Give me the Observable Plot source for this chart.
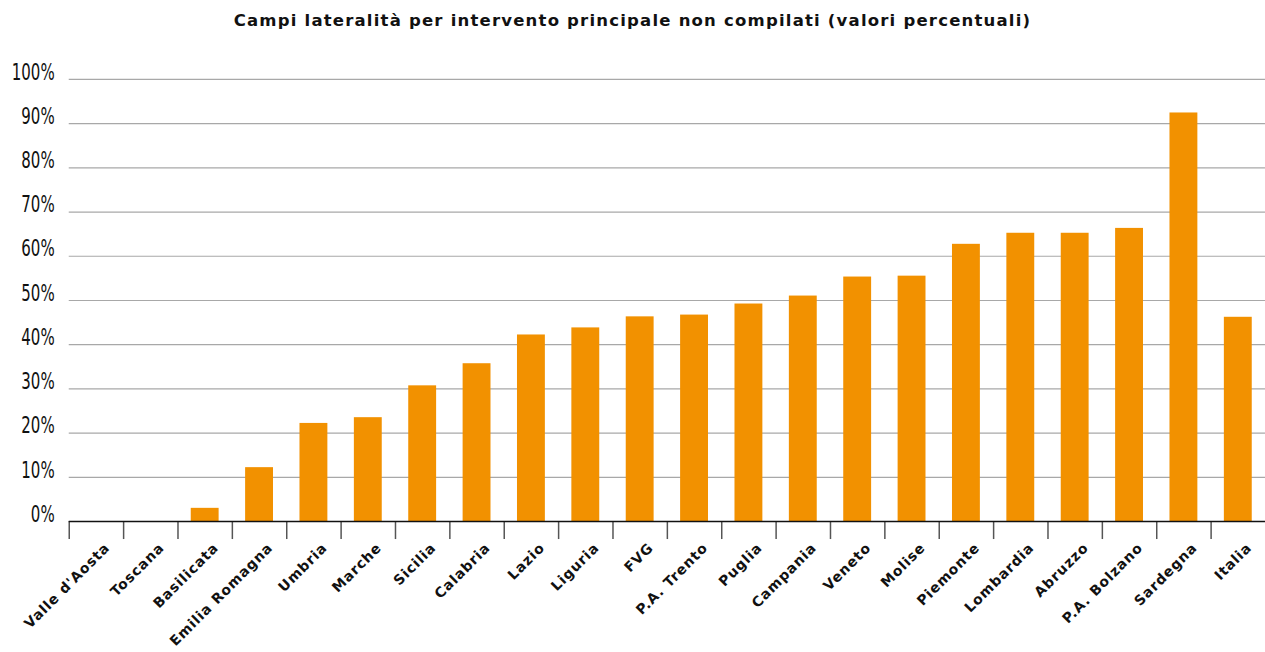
<!DOCTYPE html>
<html>
<head>
<meta charset="utf-8">
<script src="https://cdn.jsdelivr.net/npm/d3@7"></script>
<script src="https://cdn.jsdelivr.net/npm/@observablehq/plot@0.6"></script>
<style>
  html, body { margin: 0; padding: 0; background: #fff; overflow: hidden; }
  #title { height: 44px; line-height: 42px; text-align: center; font-family: "DejaVu Sans", sans-serif; font-weight: bold; font-size: 16.5px; letter-spacing: 1.2px; color: #111; box-sizing: border-box; }
  #chart svg { display: block; }
</style>
</head>
<body>
<div id="title">Campi lateralità per intervento principale non compilati (valori percentuali)</div>
<div id="chart"></div>
<script>
const regions = ["Valle d'Aosta", "Toscana", "Basilicata", "Emilia Romagna", "Umbria", "Marche", "Sicilia", "Calabria", "Lazio", "Liguria", "FVG", "P.A. Trento", "Puglia", "Campania", "Veneto", "Molise", "Piemonte", "Lombardia", "Abruzzo", "P.A. Bolzano", "Sardegna", "Italia"];
const values = [0, 0, 3.0, 12.2, 22.2, 23.5, 30.7, 35.7, 42.2, 43.8, 46.3, 46.7, 49.2, 51.0, 55.3, 55.5, 62.7, 65.2, 65.2, 66.3, 92.4, 46.2];
const yTicks = [0, 10, 20, 30, 40, 50, 60, 70, 80, 90, 100];

const data = regions.map((r, i) => ({region: r, value: values[i]}));

const width = 1270, height = 608;
const marginLeft = 69, marginRight = 0, marginTop = 35, marginBottom = 129;
const step = (width - marginLeft - marginRight) / regions.length;
const yPad = 11;

const chart = Plot.plot({
  width, height, marginLeft, marginRight, marginTop, marginBottom,
  style: {background: "#fff", overflow: "visible"},
  x: {domain: regions, padding: 0, round: false, axis: null, label: null},
  y: {domain: [0, 100], axis: null, label: null},
  marks: [
    Plot.ruleY(yTicks.filter(d => d > 0), {stroke: "#a8a8a8", strokeWidth: 1.2}),
    Plot.barY(data, {x: "region", y: "value", fill: "#F29100", insetLeft: 13.3, insetRight: 13.3}),
    Plot.axisY(yTicks, {
      tickSize: 0, tickPadding: yPad, dy: -7, label: null,
      tickFormat: d => d + "%",
      fontFamily: "'DejaVu Sans', sans-serif",
      fontSize: 22.5, fill: "#111"
    }),
    Plot.axisX({
      tickSize: 18, tickFormat: () => "", dx: -step / 2, stroke: "#555", strokeWidth: 1.5, label: null
    }),
    Plot.axisX({
      tickSize: 0, tickRotate: -45, tickPadding: 0, dx: 11, dy: 24, label: null,
      fontFamily: "'DejaVu Sans', sans-serif", fontWeight: "bold", fontSize: 14, fill: "#111"
    }),
    Plot.ruleY([0], {stroke: "#111", strokeWidth: 1.5})
  ]
});
document.getElementById("chart").appendChild(chart);

// condense the y tick labels horizontally, anchored at their right edge
d3.select(chart).selectAll('g[aria-label="y-axis tick label"]')
  .attr("transform", function() {
    const prev = this.getAttribute("transform") || "";
    const ax = marginLeft - yPad;
    return `${prev} translate(${ax},0) scale(0.67,1) translate(${-ax},0)`;
  });
d3.select(chart).selectAll('g[aria-label="x-axis tick label"] text')
  .style("letter-spacing", "0.9px");
</script>
</body>
</html>
